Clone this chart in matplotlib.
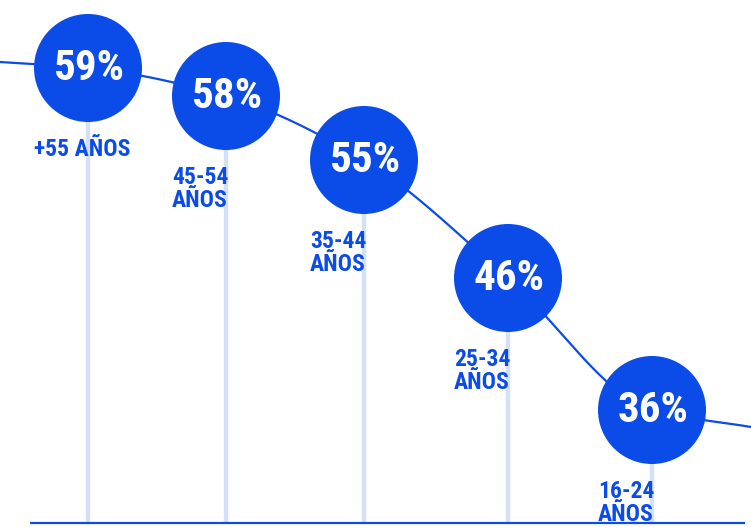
import numpy as np
import matplotlib
matplotlib.use("Agg")
import matplotlib.pyplot as plt
from matplotlib.patches import Circle

# ---- data ----
age_groups = ["+55 AÑOS", "45-54\nAÑOS", "35-44\nAÑOS", "25-34\nAÑOS", "16-24\nAÑOS"]
values = [59, 58, 55, 46, 36]
value_labels = [f"{v}%" for v in values]

# ---- layout (pixel-like coordinates, y downward) ----
W, H = 751, 527
x_pos = np.array([88, 226, 364, 508, 652], dtype=float)
y_pos = np.array([68, 96, 160, 278, 410], dtype=float)
radius = 54
BLUE = "#0b4ce8"
LIGHT = "#d4e0f8"

def pchip(xk, yk, xs):
    xk = np.asarray(xk, float); yk = np.asarray(yk, float)
    h = np.diff(xk); d = np.diff(yk) / h
    n = len(xk)
    m = np.zeros(n)
    for k in range(1, n - 1):
        if d[k - 1] * d[k] <= 0:
            m[k] = 0
        else:
            w1 = 2 * h[k] + h[k - 1]; w2 = h[k] + 2 * h[k - 1]
            m[k] = (w1 + w2) / (w1 / d[k - 1] + w2 / d[k])
    m[0] = d[0]; m[-1] = d[-1]
    out = np.empty_like(xs)
    for i, x in enumerate(xs):
        k = min(max(np.searchsorted(xk, x) - 1, 0), n - 2)
        t = (x - xk[k]) / h[k]
        h00 = 2*t**3 - 3*t**2 + 1; h10 = t**3 - 2*t**2 + t
        h01 = -2*t**3 + 3*t**2; h11 = t**3 - t**2
        out[i] = h00*yk[k] + h10*h[k]*m[k] + h01*yk[k+1] + h11*h[k]*m[k+1]
    return out

fig = plt.figure(figsize=(W/100, H/100), dpi=100)
ax = fig.add_axes([0, 0, 1, 1])
ax.set_xlim(0, W)
ax.set_ylim(H, 0)
ax.set_aspect("equal")
ax.axis("off")

# curve
cx = np.concatenate([[0], x_pos, [W]])
cy = np.concatenate([[62], y_pos, [427]])
xs = np.linspace(0, W, 800)
ax.plot(xs, pchip(cx, cy, xs), color=BLUE, lw=1.6, zorder=2, solid_capstyle="butt")

# vertical stems and baseline
for x, y in zip(x_pos, y_pos):
    ax.plot([x, x], [y, 522], color=LIGHT, lw=3.2, zorder=1, solid_capstyle="butt")
ax.plot([30, 745], [523, 523], color=BLUE, lw=1.6, zorder=3, solid_capstyle="butt")

font = ["Roboto Condensed", "Roboto"]
for x, y, lab, grp in zip(x_pos, y_pos, value_labels, age_groups):
    ax.add_patch(Circle((x, y), radius, facecolor=BLUE, edgecolor="none", zorder=4))
    ax.text(x + 1, y + 1, lab, ha="center", va="center", color="white",
            fontsize=31, fontweight="bold", family=font, zorder=5)
    ax.text(x - radius, y + radius + 16, grp, ha="left", va="top", color=BLUE,
            fontsize=17, fontweight="bold", family=font, zorder=5, linespacing=1.0)

fig.savefig("out.png", dpi=100, facecolor="white")
